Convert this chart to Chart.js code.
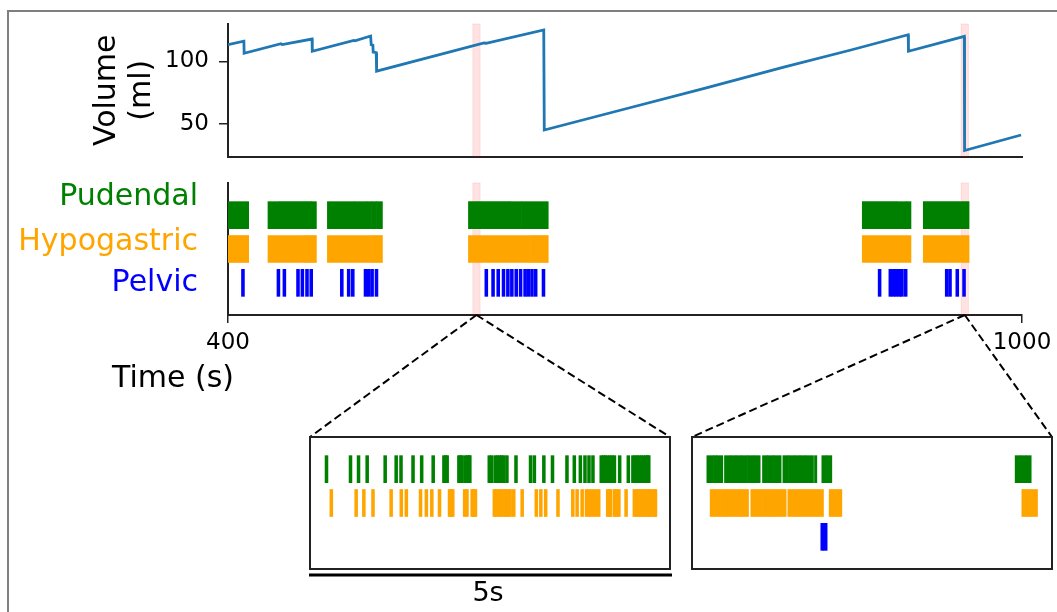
<!DOCTYPE html>
<html>
<head>
<meta charset="utf-8">
<script src="https://cdn.jsdelivr.net/npm/chart.js@4.4.0/dist/chart.umd.min.js"></script>
<style>
body { margin:0; background:#fff; width:1057px; height:612px; overflow:hidden; position:relative; font-family:'DejaVu Sans', sans-serif; }
canvas, .frame, .label { position:absolute; }
.frame { left:7px; top:10px; width:1200px; height:800px; border:2px solid #7f7f7f; }
#timeLabel { left:112px; top:362px; font-size:30px; line-height:30px; color:#000; white-space:nowrap; }
</style>
</head>
<body>
<div class="frame"></div>
<canvas id="volume" width="1057" height="170" style="left:0;top:0"></canvas>
<canvas id="raster" width="1057" height="442" style="left:0;top:170px"></canvas>
<canvas id="inset1" width="380" height="185" style="left:300px;top:427px"></canvas>
<canvas id="inset2" width="375" height="150" style="left:682px;top:427px"></canvas>
<div class="label" id="timeLabel">Time (s)</div>
<script>
Chart.defaults.font.family = "'DejaVu Sans', sans-serif";
Chart.defaults.color = '#000';
Chart.defaults.animation = false;

// bladder volume trace (time s, volume ml)
var volTime  = [400, 412, 412.2, 440, 441, 463.5, 463.7, 495, 496, 507.8, 508.2, 509.5, 509.7, 512, 512.3, 593.5, 595, 638.6, 639, 700, 760, 820, 870, 914, 914.2, 956.4, 956.6, 999.3];
var volValue = [113.5, 116.3, 106.6, 114.2, 113.5, 118, 108.2, 116.9, 116.5, 120.4, 113.5, 113, 107.5, 107, 92.3, 114.8, 114.6, 125.2, 45.2, 62, 78.5, 95.5, 109, 121.4, 108.2, 120.1, 28.8, 41.2];
var volumeTicks = [50, 100];
var timeTicks = [400, 1000];

// windows shown enlarged below (s)
var zoomWindows = [[585, 590.5], [954, 959.5]];
var windowLength = 5;

// raster rows: 0 = Pelvic, 1 = Hypogastric, 2 = Pudendal
var rowNames  = ['Pelvic', 'Hypogastric', 'Pudendal'];
var rowColors = ['#0000ff', '#ffa500', '#008000'];
var labelPos  = [-0.02, 1.2, 2.54];

var pudendalBursts = [[400,415.6],[430.2,439.1],[439.1,463],[463,466.8],[475.1,495.3],[495.3,505],[505,508.4],[508.4,512.2],[512.2,516.7],[581.7,613],[613,621.8],[621.8,642],[879.3,905],[905,912.9],[912.9,916.1],[925.4,960]];
var hypogastricBursts = [[400,415.6],[430.2,457.5],[457.5,466.8],[475.1,508.4],[508.4,516.7],[581.7,628.6],[628.6,642],[879.3,916.1],[925.4,960]];
var pelvicSpikes = [411.3, 438.1, 442.6, 452.9, 456.2, 459.7, 462.9, 486, 491.2, 494.3, 503.9, 506.4, 508.9, 512.2,
  595.2, 600.3, 604.2, 608.2, 611.5, 614.5, 617.8, 621.1, 624.5, 626.9, 629.7, 632.5, 638.4,
  892.4, 900.5, 902.8, 905, 907.3, 909.3, 912.1, 943.1, 945.6, 951.1, 956.2];

// first window, spike times from window start (s)
var inset1Pudendal = [0.229, 0.5625, 0.674, 0.794, 1.044, 1.197, 1.264, 1.431, 1.551, 1.711,
  1.86, 1.885, 1.905, 2.068, 2.09, 2.113, 2.16, 2.185, 2.21, 2.22,
  2.49, 2.525, 2.575, 2.605, 2.635, 2.66, 2.69, 2.735, 2.861, 3.063, 3.116, 3.248, 3.368, 3.569, 3.671,
  3.755, 3.819, 3.875, 3.93, 4.045, 4.075, 4.10, 4.13, 4.165, 4.195, 4.228, 4.301, 4.421,
  4.485, 4.515, 4.545, 4.575, 4.605, 4.635, 4.665, 4.69, 4.705];
var inset1Hypogastric = [0.296, 0.641, 0.748, 0.875, 1.127, 1.268, 1.338, 1.535, 1.616, 1.692, 1.799,
  1.938, 1.96, 1.983, 2.148, 2.18, 2.253, 2.275, 2.298,
  2.56, 2.59, 2.625, 2.655, 2.69, 2.72, 2.75, 2.78, 2.83, 2.947, 3.143, 3.206, 3.273, 3.444,
  3.65, 3.71, 3.78, 3.84, 3.88, 3.92, 3.965, 4.01, 4.135, 4.16, 4.175, 4.23, 4.255, 4.29, 4.39,
  4.505, 4.535, 4.565, 4.595, 4.625, 4.655, 4.685, 4.715, 4.745, 4.78, 4.798];

// second window, firing intervals from window start (s)
var inset2Pudendal = [[0.206,0.299],[0.299,0.345],[0.345,0.428],[0.451,0.53],[0.53,0.61],[0.61,0.69],[0.69,0.77],[0.77,0.86],[0.86,0.947],
  [0.979,1.05],[1.05,1.13],[1.13,1.238],[1.262,1.34],[1.34,1.42],[1.42,1.50],[1.50,1.58],[1.58,1.6875],[1.701,1.734],
  [1.803,1.87],[1.87,1.942],[4.488,4.56],[4.56,4.64],[4.64,4.711]];
var inset2Hypogastric = [[0.252,0.33],[0.33,0.41],[0.41,0.49],[0.49,0.57],[0.57,0.65],[0.65,0.72],[0.72,0.785],
  [0.817,0.90],[0.90,0.98],[0.98,1.06],[1.06,1.14],[1.14,1.22],[1.22,1.308],
  [1.331,1.41],[1.41,1.49],[1.49,1.57],[1.57,1.65],[1.65,1.74],[1.74,1.826],
  [1.905,1.97],[1.97,2.03],[2.03,2.081],[4.581,4.65],[4.65,4.72],[4.72,4.799]];
var inset2Pelvic = [[1.789,1.83],[1.83,1.877]];

function bars(intervals, row) {
    return intervals.map(function(iv) { return {x: iv, y: row}; });
}
function spikes(times, w, row) {
    return times.map(function(t) { return {x: [t - w/2, t + w/2], y: row}; });
}
function rowSet(data, row) {
    return {type: 'bar', data: data, backgroundColor: rowColors[row], borderWidth: 0,
            barThickness: 27, grouped: false, borderSkipped: false};
}
// keep tick labels from pushing the plot area around
function noPad(s) {
    s.paddingTop = 0; s.paddingBottom = 0; s.paddingLeft = 0; s.paddingRight = 0;
}

const bandPlugin = {
    id: 'bands',
    beforeDatasetsDraw: (chart) => {
        const ctx = chart.ctx, a = chart.chartArea, x = chart.scales.x;
        ctx.save();
        zoomWindows.forEach(function(w) {
            var x0 = x.getPixelForValue(w[0]), x1 = x.getPixelForValue(w[1]);
            ctx.fillStyle = 'rgba(255,0,0,0.11)';
            ctx.fillRect(x0, a.top, x1 - x0, a.bottom - a.top);
            ctx.strokeStyle = 'rgba(255,0,0,0.10)';
            ctx.lineWidth = 1;
            ctx.strokeRect(x0, a.top, x1 - x0, a.bottom - a.top);
        });
        ctx.restore();
    }
};

const boxPlugin = {
    id: 'box',
    afterDraw: (chart) => {
        const ctx = chart.ctx, a = chart.chartArea;
        ctx.save();
        ctx.strokeStyle = '#222';
        ctx.lineWidth = 2;
        ctx.strokeRect(a.left, a.top, a.right - a.left, a.bottom - a.top);
        ctx.restore();
    }
};

const scaleBarPlugin = {
    id: 'scalebar',
    afterDraw: (chart) => {
        const ctx = chart.ctx, a = chart.chartArea, x = chart.scales.x;
        var x0 = x.getPixelForValue(0), x1 = x.getPixelForValue(windowLength);
        ctx.save();
        ctx.strokeStyle = '#000';
        ctx.lineWidth = 3;
        ctx.beginPath();
        ctx.moveTo(x0 - 1, a.bottom + 6);
        ctx.lineTo(x1 + 2, a.bottom + 6);
        ctx.stroke();
        ctx.fillStyle = '#000';
        ctx.font = "27px 'DejaVu Sans'";
        ctx.textAlign = 'center';
        ctx.textBaseline = 'middle';
        ctx.fillText(windowLength + 's', (x0 + x1) / 2 - 2, a.bottom + 25);
        ctx.restore();
    }
};

function insetChart(id, datasets, padding, extra) {
    return new Chart(document.getElementById(id), {
        data: {datasets: datasets},
        options: {
            indexAxis: 'y',
            responsive: false,
            devicePixelRatio: 1,
            layout: {padding: padding},
            scales: {
                x: {type: 'linear', min: 0, max: windowLength, display: false, offset: false},
                y: {type: 'linear', min: -0.95, max: 2.95, display: false, offset: false}
            },
            plugins: {legend: {display: false}, tooltip: {enabled: false}}
        },
        plugins: [boxPlugin].concat(extra)
    });
}

var inset1 = insetChart('inset1', [
    rowSet(spikes(inset1Pudendal, 0.04, 2), 2),
    rowSet(spikes(inset1Hypogastric, 0.04, 1), 1)
], {left: 10, right: 10, top: 10, bottom: 43}, [scaleBarPlugin]);

var inset2 = insetChart('inset2', [
    rowSet(bars(inset2Pudendal, 2), 2),
    rowSet(bars(inset2Hypogastric, 1), 1),
    rowSet(bars(inset2Pelvic, 0), 0)
], {left: 10, right: 5, top: 10, bottom: 8}, []);

const connectorPlugin = {
    id: 'connectors',
    afterDraw: (chart) => {
        const ctx = chart.ctx, a = chart.chartArea, x = chart.scales.x;
        const top0 = chart.canvas.offsetTop, left0 = chart.canvas.offsetLeft;
        ctx.save();
        ctx.strokeStyle = '#000';
        ctx.lineWidth = 2;
        ctx.setLineDash([8, 4]);
        [inset1, inset2].forEach(function(inset, i) {
            var w = zoomWindows[i];
            var sx = x.getPixelForValue((w[0] + w[1]) / 2), sy = a.bottom;
            var b = inset.chartArea;
            var ox = inset.canvas.offsetLeft - left0, oy = inset.canvas.offsetTop - top0;
            ctx.beginPath();
            ctx.moveTo(sx, sy); ctx.lineTo(ox + b.left, oy + b.top);
            ctx.moveTo(sx, sy); ctx.lineTo(ox + b.right, oy + b.top);
            ctx.stroke();
        });
        ctx.restore();
    }
};

var axisLine = {display: true, color: '#222', width: 2};

new Chart(document.getElementById('volume'), {
    type: 'line',
    data: {
        datasets: [{
            data: volTime.map(function(t, i) { return {x: t, y: volValue[i]}; }),
            borderColor: '#1f77b4',
            borderWidth: 2.8,
            pointRadius: 0,
            tension: 0
        }]
    },
    options: {
        responsive: false,
        devicePixelRatio: 1,
        layout: {padding: {left: 0, right: 35, top: 24, bottom: 13.5}},
        scales: {
            x: {
                type: 'linear', min: 400, max: 1000, offset: false,
                grid: {display: false, drawTicks: false},
                border: axisLine,
                ticks: {display: false},
                afterFit: function(s) { s.height = 0; noPad(s); }
            },
            y: {
                type: 'linear', min: 24, max: 130, offset: false,
                afterBuildTicks: function(s) { s.ticks = volumeTicks.map(function(v) { return {value: v}; }); },
                grid: {drawOnChartArea: false, drawTicks: true, tickLength: 9, color: '#222', lineWidth: 1.5},
                border: axisLine,
                ticks: {font: {size: 23}, color: '#000', padding: 10},
                title: {display: true, text: ['Volume', '(ml)'], font: {size: 30, lineHeight: 1.15}, color: '#000', padding: {top: 90, bottom: 0}},
                afterFit: function(s) { s.width = 228; noPad(s); }
            }
        },
        plugins: {legend: {display: false}, tooltip: {enabled: false}}
    },
    plugins: [bandPlugin]
});

new Chart(document.getElementById('raster'), {
    data: {
        datasets: [
            rowSet(bars(pudendalBursts, 2), 2),
            rowSet(bars(hypogastricBursts, 1), 1),
            rowSet(spikes(pelvicSpikes, 2.2, 0), 0)
        ]
    },
    options: {
        indexAxis: 'y',
        responsive: false,
        devicePixelRatio: 1,
        layout: {padding: {left: 0, right: 35, top: 13, bottom: 252}},
        scales: {
            x: {
                type: 'linear', min: 400, max: 1000, offset: false,
                afterBuildTicks: function(s) { s.ticks = timeTicks.map(function(v) { return {value: v}; }); },
                grid: {drawOnChartArea: false, drawTicks: true, tickLength: 8, color: '#222', lineWidth: 1.5, offset: false},
                border: axisLine,
                ticks: {font: {size: 23}, color: '#000', padding: 6, maxRotation: 0, callback: function(v) { return String(v); }},
                afterFit: function(s) { s.height = 45; noPad(s); }
            },
            y: {
                type: 'linear', min: -0.95, max: 2.95, offset: false,
                afterBuildTicks: function(s) { s.ticks = labelPos.map(function(v) { return {value: v}; }); },
                grid: {display: false, drawTicks: false},
                border: axisLine,
                ticks: {
                    font: {size: 30}, padding: 30,
                    color: function(c) { return rowColors[c.index]; },
                    callback: function(v, i) { return rowNames[i]; }
                },
                afterFit: function(s) { s.width = 228; noPad(s); }
            }
        },
        plugins: {legend: {display: false}, tooltip: {enabled: false}}
    },
    plugins: [bandPlugin, connectorPlugin]
});
</script>
</body>
</html>
